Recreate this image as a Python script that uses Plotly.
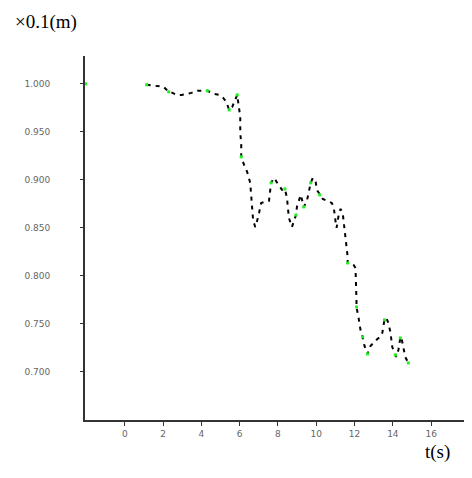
import plotly.graph_objects as go

# Data (t in s, displacement in x0.1 m)
t_vals = [1.14, 2.03, 2.29, 2.49, 2.70, 2.96, 3.48, 3.79, 4.31, 4.68, 4.94, 5.14, 5.30, 5.45,
          5.61, 5.77, 5.87, 6.03, 6.03, 6.08, 6.08, 6.23, 6.39, 6.55, 6.60, 6.60, 6.70, 6.81,
          6.86, 7.01, 7.12, 7.53, 7.64, 7.79, 7.95, 8.10, 8.21, 8.36, 8.47, 8.57, 8.73, 8.94,
          8.99, 9.19, 9.35, 9.51, 9.61, 9.71, 9.82, 9.97, 10.03, 10.18, 10.34, 10.81, 10.91,
          11.01, 11.06, 11.17, 11.27, 11.38, 11.48, 11.58, 11.64, 11.64, 11.79, 11.95, 12.05,
          12.10, 12.10, 12.21, 12.31, 12.42, 12.52, 12.68, 12.83, 13.04, 13.19, 13.35, 13.45,
          13.56, 13.66, 13.77, 13.87, 13.97, 14.13, 14.18, 14.29, 14.39, 14.44, 14.60, 14.65,
          14.81]
y_vals = [0.9990, 0.9969, 0.9917, 0.9906, 0.9885, 0.9885, 0.9906, 0.9927, 0.9927, 0.9896,
          0.9885, 0.9854, 0.9813, 0.9729, 0.9760, 0.9833, 0.9885, 0.9656, 0.9500, 0.9365,
          0.9240, 0.9156, 0.9083, 0.8969, 0.8865, 0.8792, 0.8583, 0.8510, 0.8531, 0.8656,
          0.8760, 0.8781, 0.8969, 0.9021, 0.8969, 0.8927, 0.8896, 0.8906, 0.8813, 0.8604,
          0.8510, 0.8635, 0.8719, 0.8844, 0.8719, 0.8781, 0.8875, 0.8969, 0.9021, 0.8979,
          0.8896, 0.8844, 0.8802, 0.8760, 0.8719, 0.8563, 0.8500, 0.8635, 0.8698, 0.8656,
          0.8500, 0.8292, 0.8198, 0.8135, 0.8135, 0.8115, 0.8083, 0.7750, 0.7677, 0.7563,
          0.7438, 0.7365, 0.7271, 0.7188, 0.7271, 0.7313, 0.7344, 0.7365, 0.7406, 0.7542,
          0.7563, 0.7510, 0.7417, 0.7260, 0.7177, 0.7156, 0.7229, 0.7354, 0.7365, 0.7229,
          0.7156, 0.7094]

# Isolated first sample on the axis
t_start = [-2.05]
y_start = [1.000]

# Samples highlighted in green
t_green = [1.14, 2.29, 4.31, 5.45, 5.87, 6.08, 7.64, 8.36, 8.94, 9.35, 9.71, 10.18,
           11.64, 12.10, 12.42, 12.68, 13.56, 14.13, 14.39, 14.81]
y_green = [0.9990, 0.9917, 0.9927, 0.9729, 0.9885, 0.9240, 0.8969, 0.8906, 0.8635, 0.8719,
           0.8969, 0.8844, 0.8135, 0.7677, 0.7365, 0.7188, 0.7542, 0.7177, 0.7354, 0.7094]

x_ticks = [0, 2, 4, 6, 8, 10, 12, 14, 16]
y_ticks = [1.00, 0.95, 0.90, 0.85, 0.80, 0.75, 0.70]
y_tick_text = ["1.000", "0.950", "0.900", "0.850", "0.800", "0.750", "0.700"]

fig = go.Figure()
fig.add_trace(go.Scatter(x=t_vals, y=y_vals, mode="lines",
                         line=dict(color="black", width=2, dash="4px,5px"),
                         hoverinfo="skip", showlegend=False))
fig.add_trace(go.Scatter(x=t_green, y=y_green, mode="markers",
                         marker=dict(color="#22ee22", size=3, symbol="square"),
                         showlegend=False))
fig.add_trace(go.Scatter(x=t_start, y=y_start, mode="markers",
                         marker=dict(color="#22ee22", size=3, symbol="square"),
                         showlegend=False))

fig.update_layout(
    width=464, height=470,
    margin=dict(l=77, r=2, t=48, b=58),
    paper_bgcolor="white", plot_bgcolor="white",
    showlegend=False,
    xaxis=dict(range=[-2.08, 18.03], tickvals=x_ticks, ticktext=[str(v) for v in x_ticks],
               showgrid=False, zeroline=False, showline=True, linecolor="#333333", linewidth=2,
               ticks="outside", ticklen=4, tickcolor="#333333",
               tickfont=dict(family="DejaVu Sans", size=9, color="#666666")),
    yaxis=dict(range=[0.65, 1.029], tickvals=y_ticks, ticktext=y_tick_text,
               showgrid=False, zeroline=False, showline=True, linecolor="#333333", linewidth=2,
               ticks="outside", ticklen=3, tickcolor="#333333", ticklabelstandoff=28,
               tickfont=dict(family="DejaVu Sans", size=9, color="#666666")),
    annotations=[
        dict(text="×0.1(m)", xref="paper", yref="paper", x=-0.187, y=1.0934,
             xanchor="left", yanchor="middle", showarrow=False,
             font=dict(family="Liberation Serif", size=19, color="black")),
        dict(text="t(s)", xref="paper", yref="paper", x=0.953, y=-0.088,
             xanchor="right", yanchor="middle", showarrow=False,
             font=dict(family="Liberation Serif", size=19, color="black")),
    ],
)

fig.write_html("out.html")
